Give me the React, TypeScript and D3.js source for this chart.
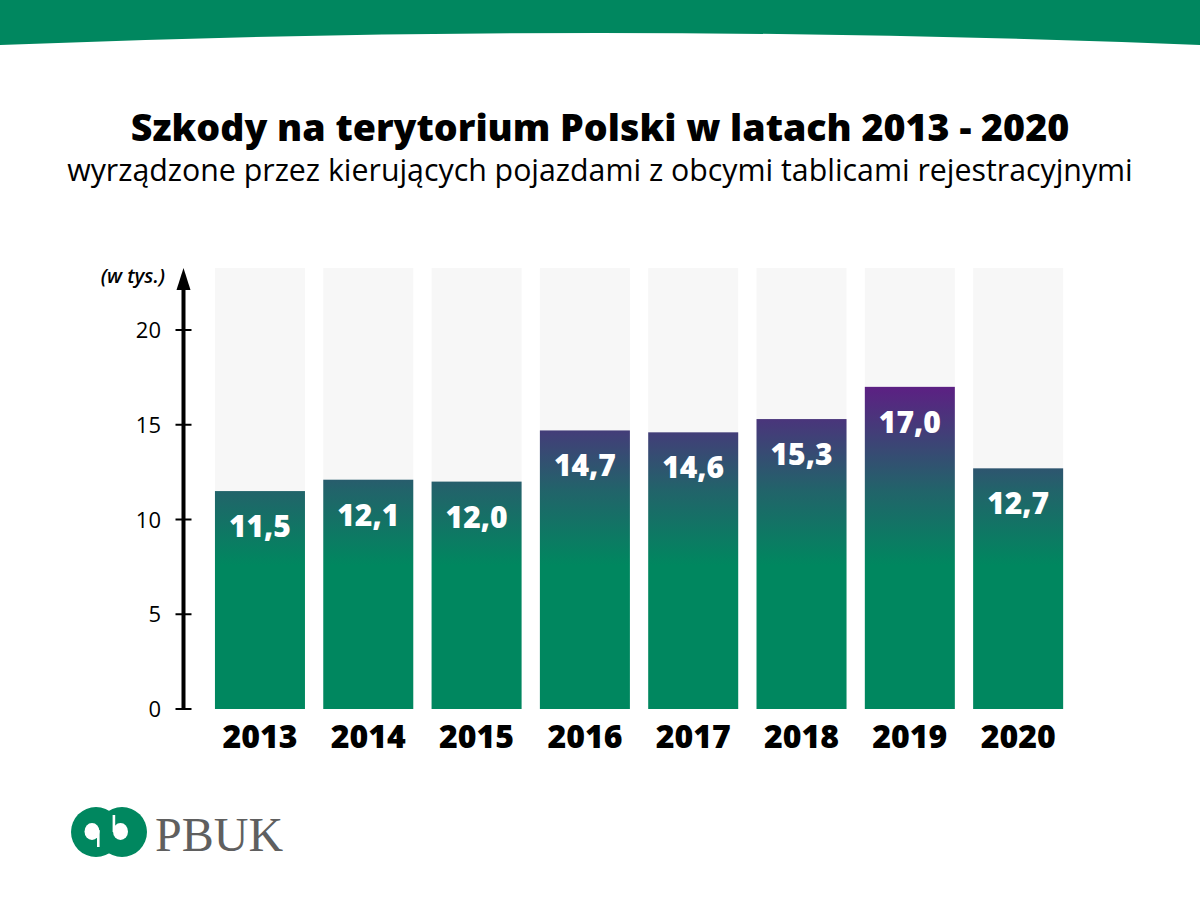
import React from "react";
import * as d3 from "d3";

const years = ["2013", "2014", "2015", "2016", "2017", "2018", "2019", "2020"];
const values = [11.5, 12.1, 12.0, 14.7, 14.6, 15.3, 17.0, 12.7];
const valueLabels = ["11,5", "12,1", "12,0", "14,7", "14,6", "15,3", "17,0", "12,7"];
const yTicks = [0, 5, 10, 15, 20];
const title = "Szkody na terytorium Polski w latach 2013 - 2020";
const subtitle = "wyrządzone przez kierujących pojazdami z obcymi tablicami rejestracyjnymi";
const unitLabel = "(w tys.)";
const backgroundMax = 23.27;

const W = 1200;
const H = 900;
const GREEN = "#00875f";
const FONT = "'Open Sans', 'Noto Sans', sans-serif";

export default function App() {
  const x = d3.scaleBand<string>().domain(years).range([205.8, 1072.3]).paddingInner(0.169).paddingOuter(0.0845);
  const y = d3.scaleLinear().domain([0, 20]).range([709, 330]);
  const bw = x.bandwidth();
  const axisX = 183.5;

  return (
    <svg width={W} height={H} style={{ position: "absolute", left: 0, top: 0, display: "block" }} viewBox={`0 0 ${W} ${H}`}>
      <defs>
        <linearGradient id="barGrad" gradientUnits="userSpaceOnUse" x1="0" y1={y(0)} x2="0" y2={y(17)}>
          <stop offset="0" stopColor={GREEN} />
          <stop offset={(709 - 565) / (709 - 387)} stopColor={GREEN} />
          <stop offset={(709 - 490) / (709 - 387)} stopColor="#22636a" />
          <stop offset="1" stopColor="#5c2083" />
        </linearGradient>
      </defs>
      <rect x={0} y={0} width={W} height={H} fill="#ffffff" />
      <path d={`M0,0 H${W} V45 Q${W / 2},21 0,45 Z`} fill={GREEN} />

      <text x={600} y={141} textAnchor="middle" fontFamily={FONT} fontWeight={800} fontSize={37.6} fill="#000">{title}</text>
      <text x={600} y={181} textAnchor="middle" fontFamily={FONT} fontWeight={400} fontSize={30.3} fill="#000">{subtitle}</text>

      {years.map((yr) => (
        <rect key={"bg" + yr} x={x(yr)} y={y(backgroundMax)} width={bw} height={y(0) - y(backgroundMax)} fill="#f7f7f7" />
      ))}
      {years.map((yr, i) => (
        <rect key={"b" + yr} x={x(yr)} y={y(values[i])} width={bw} height={y(0) - y(values[i])} fill="url(#barGrad)" />
      ))}
      {years.map((yr, i) => (
        <text key={"v" + yr} x={(x(yr) as number) + bw / 2} y={y(values[i]) + 46} textAnchor="middle" fontFamily={FONT} fontWeight={800} fontSize={30} fill="#fff">{valueLabels[i]}</text>
      ))}
      {years.map((yr) => (
        <text key={"x" + yr} x={(x(yr) as number) + bw / 2} y={748} textAnchor="middle" fontFamily={FONT} fontWeight={800} fontSize={32} fill="#000">{yr}</text>
      ))}

      <line x1={axisX} x2={axisX} y1={y(0)} y2={285} stroke="#000" strokeWidth={4} />
      <path d={`M${axisX},268 L${axisX + 7},290 L${axisX - 7},290 Z`} fill="#000" />
      {yTicks.map((t) => (
        <g key={"t" + t}>
          <line x1={axisX - 8} x2={axisX + 8} y1={y(t)} y2={y(t)} stroke="#000" strokeWidth={2} />
          <text x={161} y={y(t) + 8} textAnchor="end" fontFamily={FONT} fontSize={22} fill="#000">{t}</text>
        </g>
      ))}
      <text x={165} y={283} textAnchor="end" fontFamily={FONT} fontStyle="italic" fontWeight={600} fontSize={20} fill="#000">{unitLabel}</text>

      <g>
        <circle cx={96} cy={832} r={25} fill={GREEN} />
        <circle cx={122} cy={832} r={25} fill={GREEN} />
        <ellipse cx={92} cy={831.5} rx={7.5} ry={8.5} fill="#fff" />
        <ellipse cx={120.5} cy={831.5} rx={7.5} ry={8.5} fill="#fff" />
        <rect x={97} y={830} width={2.6} height={17} fill="#fff" />
        <rect x={112.6} y={815} width={2.6} height={17} fill="#fff" />
      </g>
      <text x={155} y={851} fontFamily="'Liberation Serif', 'DejaVu Serif', serif" fontSize={48} fill="#5f5f5f">PBUK</text>
    </svg>
  );
}
